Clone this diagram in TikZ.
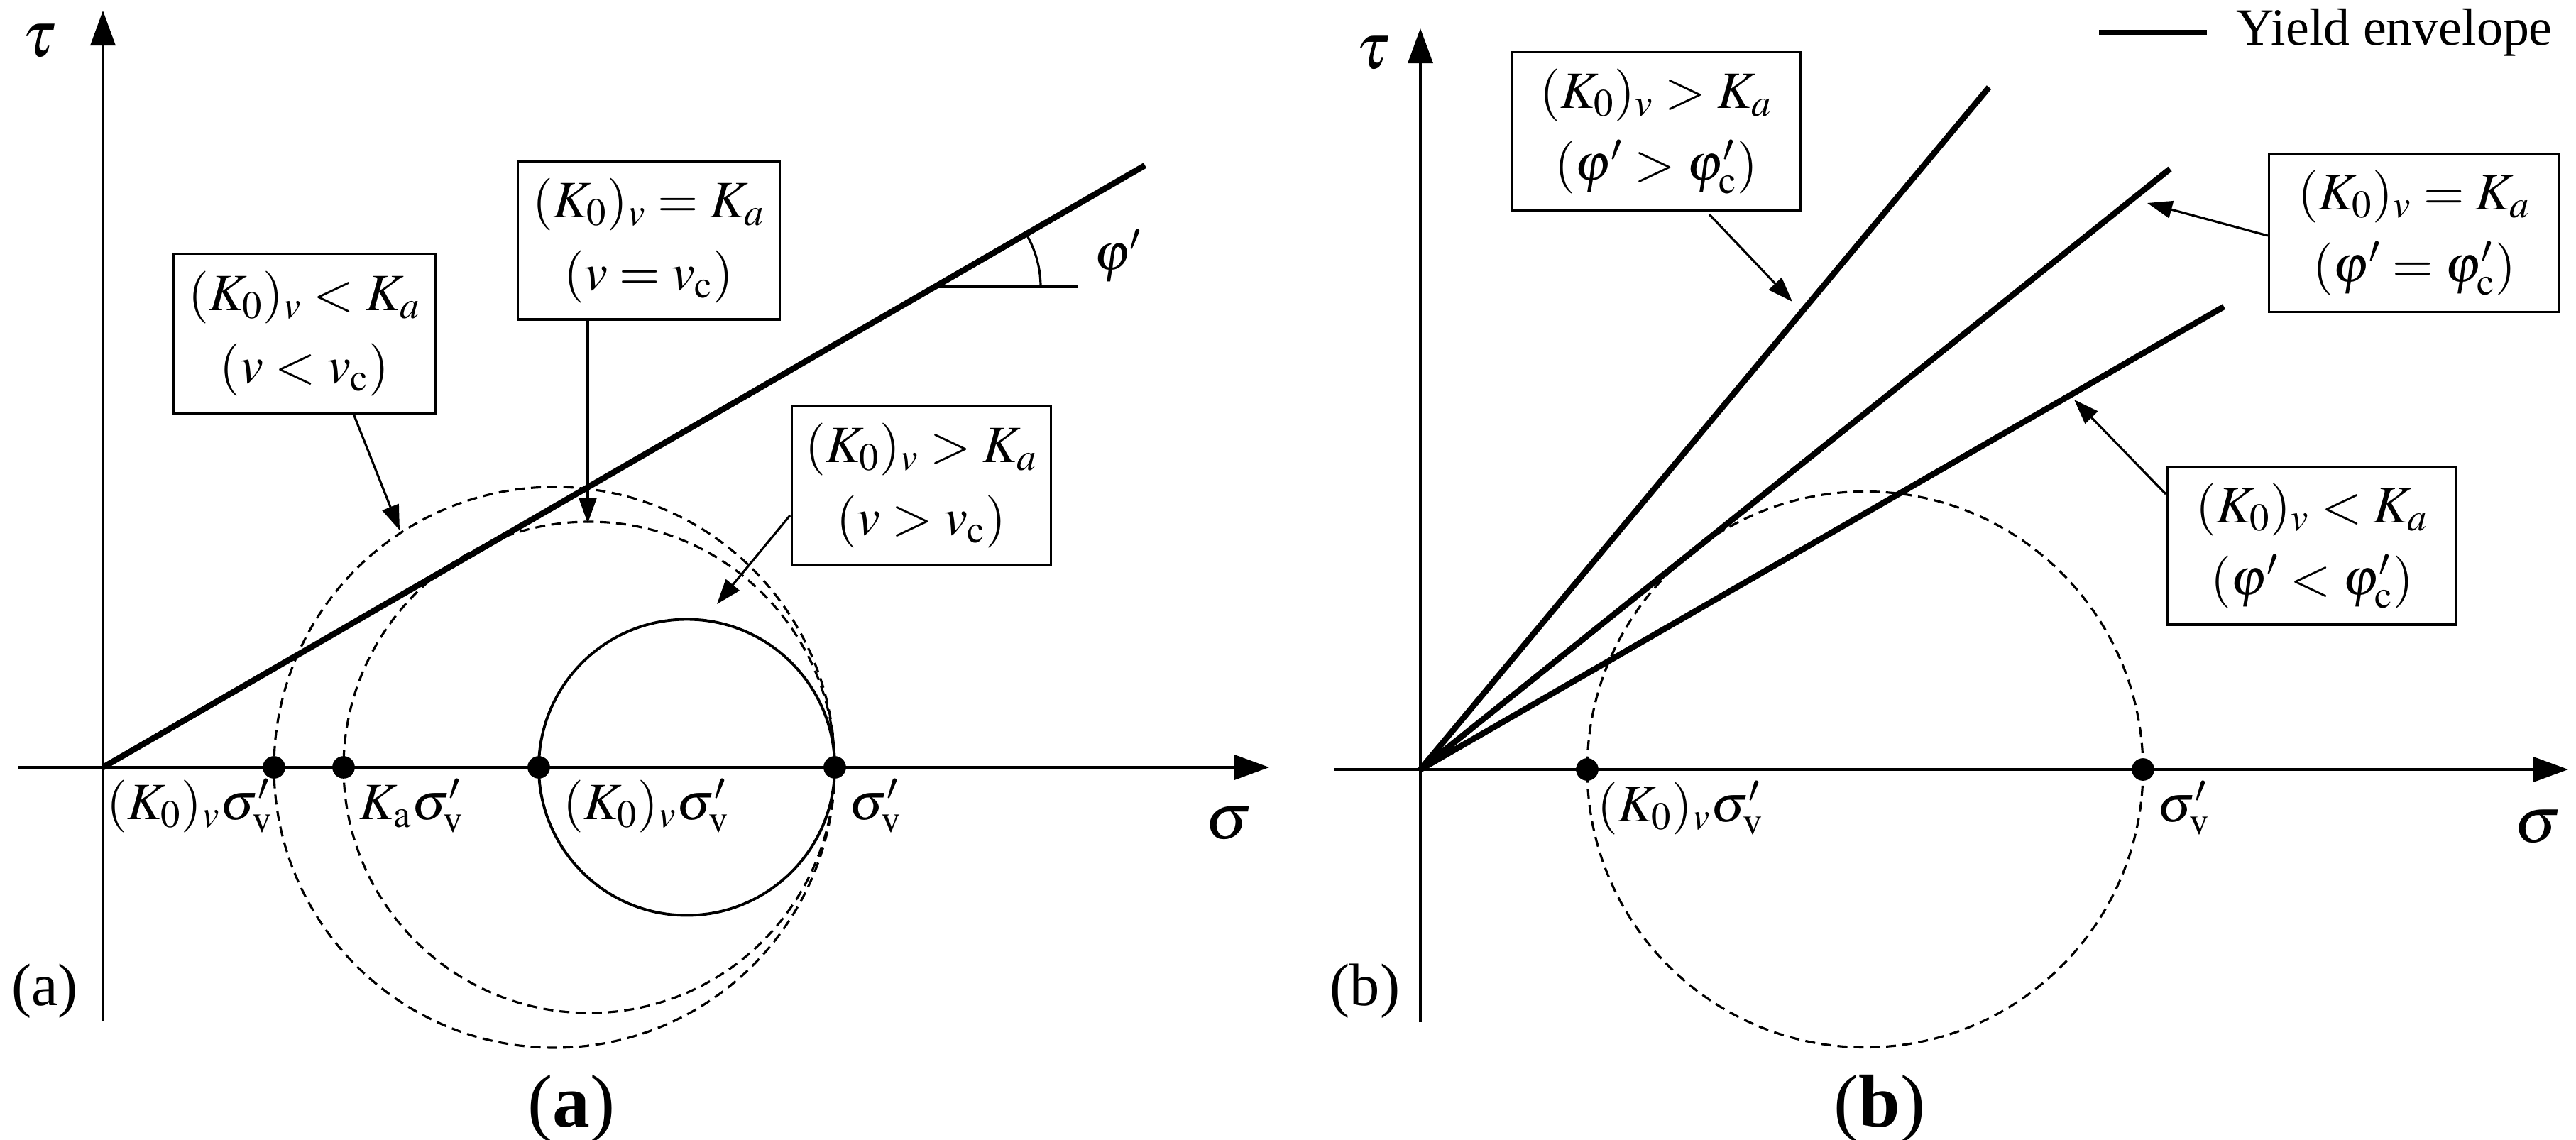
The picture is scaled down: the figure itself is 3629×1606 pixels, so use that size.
\documentclass[tikz,border=0pt]{standalone}
\usepackage{mathptmx}
\usepackage{fontspec}
\setmainfont{Liberation Serif}
\usetikzlibrary{arrows.meta}
\tikzset{
 ax/.style={line width=0.9pt,-{Triangle[length=14pt,width=10pt]}},
 env/.style={line width=2.4pt},
 dsh/.style={line width=0.9pt,dash pattern=on 4pt off 2.5pt},
 lbox/.style={draw,line width=0.9pt,align=center,font=\fontsize{21}{29}\selectfont,inner sep=0pt},
 pt/.style={circle,fill,inner sep=0pt,minimum size=9pt},
 ptr/.style={line width=0.9pt,-{Triangle[length=10pt,width=7pt]}},
 lab/.style={font=\fontsize{21}{24}\selectfont},
 big/.style={font=\fontsize{26}{28}\selectfont},
}
\begin{document}
\begin{tikzpicture}[x=0.01cm,y=-0.01cm]
\useasboundingbox (0,0) rectangle (3629,1606);
% ---------- panel (a)
\coordinate (oa) at (145,1081);
\draw[ax] (145,1438) -- (145,15);
\draw[ax] (25,1081) -- (1788,1081);
\node[big] (taua) at (55,58) {$\tau$};
\node[big] (siga) at (1731,1160) {$\sigma$};
\coordinate (ea) at (1613,233);
\draw[env] (oa) -- (ea);
\draw[line width=0.9pt] (1320,404) -- (1518,404);
\draw[line width=0.9pt] (1466,404) arc[start angle=0,end angle=-30,radius=146];
\node[lab] (phia) at (1575,360) {$\varphi'$};
\draw[dsh] (781,1081) circle[radius=395];
\draw[dsh] (830,1081) circle[radius=346];
\draw[line width=1.1pt] (967.5,1081) circle[radius=208.5];
\node[pt] (p1) at (386,1081) {};
\node[pt] (p2) at (484,1081) {};
\node[pt] (p3) at (759,1081) {};
\node[pt] (p4) at (1176,1081) {};
\node[lab,anchor=north west,inner sep=0pt] (l1) at (150,1097) {$(K_0)_v\sigma'_{\rm v}$};
\node[lab,anchor=north west,inner sep=0pt] (l2) at (506,1097) {$K_{\rm a}\sigma'_{\rm v}$};
\node[lab,anchor=north west,inner sep=0pt] (l3) at (793,1097) {$(K_0)_v\sigma'_{\rm v}$};
\node[lab,anchor=north west,inner sep=0pt] (l4) at (1196,1097) {$\sigma'_{\rm v}$};
\node[lbox,minimum width=3.68cm,minimum height=2.25cm] (b1) at (429,470) {$(K_0)_v < K_a$\\$(v < v_{\rm c})$};
\node[lbox,minimum width=3.68cm,minimum height=2.22cm] (b2) at (914,339) {$(K_0)_v = K_a$\\$(v = v_{\rm c})$};
\node[lbox,minimum width=3.65cm,minimum height=2.23cm] (b3) at (1298,684) {$(K_0)_v > K_a$\\$(v > v_{\rm c})$};
\coordinate (t1) at (563,747);
\coordinate (t2) at (828,737);
\coordinate (t3) at (1010,851);
\draw[ptr] (498,583) -- (t1);
\draw[ptr] (828,450) -- (t2);
\draw[ptr] (1113,726) -- (t3);
\node[font=\fontsize{24}{26}\selectfont] (ta) at (63,1396) {(a)};
\node[font=\fontsize{30}{32}\selectfont] (ca) at (805,1562) {(\textbf{a})};
% ---------- panel (b)
\coordinate (ob) at (2001,1084);
\draw[ax] (2001,1440) -- (2001,40);
\draw[ax] (1879,1084) -- (3618,1084);
\node[big] (taub) at (1934,75) {$\tau$};
\node[big] (sigb) at (3575,1165) {$\sigma$};
\coordinate (e1) at (2802,123);
\coordinate (e2) at (3057,238);
\coordinate (e3) at (3133,432);
\draw[env] (ob) -- (e1);
\draw[env] (ob) -- (e2);
\draw[env] (ob) -- (e3);
\draw[dsh] (2627.5,1084) circle[radius=391.5];
\node[pt] (q1) at (2236,1084) {};
\node[pt] (q2) at (3019,1084) {};
\node[lab,anchor=north west,inner sep=0pt] (m1) at (2250,1100) {$(K_0)_v\sigma'_{\rm v}$};
\node[lab,anchor=north west,inner sep=0pt] (m2) at (3039,1100) {$\sigma'_{\rm v}$};
\node[lbox,minimum width=4.06cm,minimum height=2.23cm] (c1) at (2333,185) {$(K_0)_v > K_a$\\$(\varphi' > \varphi'_{\rm c})$};
\node[lbox,minimum width=4.09cm,minimum height=2.23cm] (c2) at (3401,328) {$(K_0)_v = K_a$\\$(\varphi' = \varphi'_{\rm c})$};
\node[lbox,minimum width=4.06cm,minimum height=2.22cm] (c3) at (3257,769) {$(K_0)_v < K_a$\\$(\varphi' < \varphi'_{\rm c})$};
\coordinate (s1) at (2525,425);
\coordinate (s2) at (3025,286);
\coordinate (s3) at (2922,563);
\draw[ptr] (2408,302) -- (s1);
\draw[ptr] (c2.west |- 0,332) -- (s2);
\draw[ptr] (3051,696) -- (s3);
\coordinate (lg1) at (2957,46);
\coordinate (lg2) at (3109,46);
\draw[env] (lg1) -- (lg2);
\node[lab,anchor=west,inner sep=0pt] (lgt) at (3150,46) {Yield envelope};
\node[font=\fontsize{24}{26}\selectfont] (tb) at (1923,1396) {(b)};
\node[font=\fontsize{30}{32}\selectfont] (cb) at (2648,1562) {(\textbf{b})};
\end{tikzpicture}
\end{document}
